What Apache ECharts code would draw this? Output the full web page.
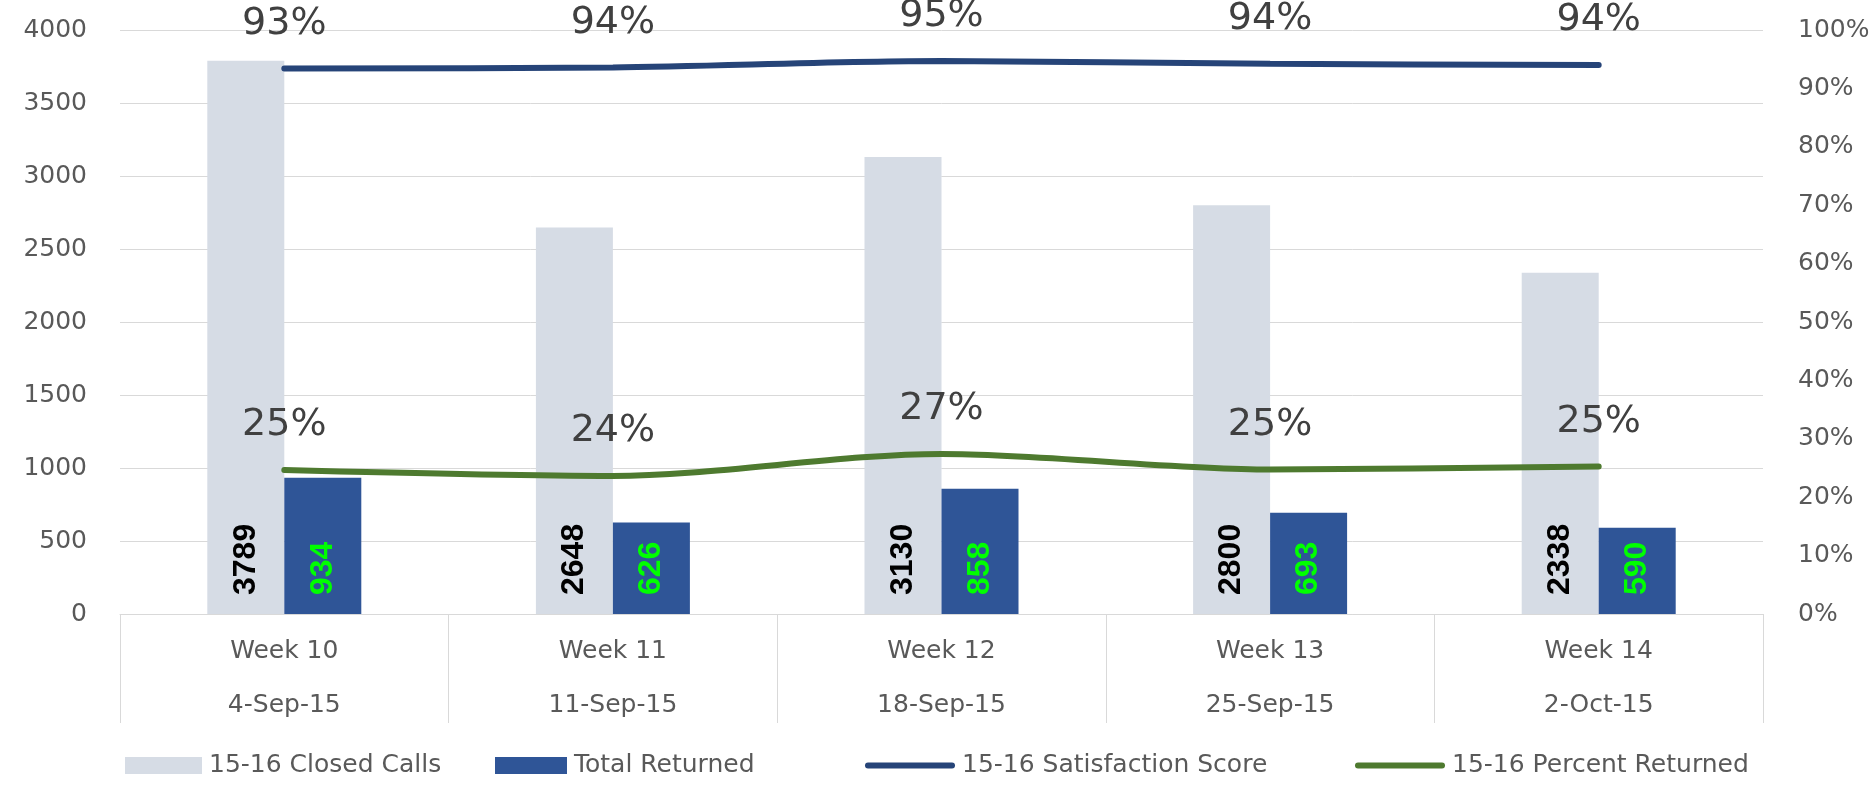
<!DOCTYPE html>
<html>
<head>
<meta charset="utf-8">
<title>Closed Calls vs Returned</title>
<script src="https://cdn.jsdelivr.net/npm/echarts@6/dist/echarts.min.js"></script>
<style>
  html, body { margin: 0; padding: 0; background: #fff; }
  #main { width: 1874px; height: 786px; }
</style>
</head>
<body>
<div id="main"></div>
<script>
  // weekly data
  var weeks = ['Week 10', 'Week 11', 'Week 12', 'Week 13', 'Week 14'];
  var weekDates = ['4-Sep-15', '11-Sep-15', '18-Sep-15', '25-Sep-15', '2-Oct-15'];
  var closedCalls = [3789, 2648, 3130, 2800, 2338];
  var totalReturned = [934, 626, 858, 693, 590];
  var satisfaction = [0.934, 0.936, 0.947, 0.942, 0.940];
  var pctReturned = [0.2465, 0.2364, 0.2741, 0.2475, 0.2524];

  var gray = '#595959';
  var font = 'DejaVu Sans';
  // thick rounded line used as legend icon for the line series
  var lineIcon = 'path://M3,0 H87 A3,3 0 0 1 87,6 H3 A3,3 0 0 1 3,0 Z';

  var myChart = echarts.init(document.getElementById('main'));

  function pct(p) { return Math.round(p.value * 100) + '%'; }

  function legendAt(left, name, icon, w) {
    return {
      left: left,
      top: 748,
      itemWidth: w,
      itemHeight: 17,
      itemGap: 0,
      textStyle: { fontFamily: font, fontSize: 25, color: gray, padding: [0, 0, 0, 2] },
      data: [{ name: name, icon: icon }]
    };
  }

  var option = {
    animation: false,
    backgroundColor: '#fff',
    grid: { left: 120, right: 111, top: 30, bottom: 172 },
    legend: [
      legendAt(120, '15-16 Closed Calls', 'rect', 77),
      legendAt(490, 'Total Returned', 'rect', 72),
      legendAt(860, '15-16 Satisfaction Score', lineIcon, 90),
      legendAt(1350, '15-16 Percent Returned', lineIcon, 90)
    ],
    xAxis: {
      type: 'category',
      data: weeks,
      axisLine: { lineStyle: { color: '#d9d9d9', width: 1 } },
      axisTick: { show: true, length: 109, lineStyle: { color: '#d9d9d9' } },
      axisLabel: {
        margin: 10,
        fontFamily: font,
        fontSize: 25,
        color: gray,
        lineHeight: 54,
        formatter: function (v, i) { return v + '\n' + weekDates[i]; }
      }
    },
    yAxis: [
      {
        type: 'value',
        min: 0, max: 4000, interval: 500,
        axisLine: { show: false },
        axisTick: { show: false },
        axisLabel: {
          margin: 33, fontFamily: font, fontSize: 25, color: gray,
          formatter: function (v) { return String(v); }
        },
        splitLine: { lineStyle: { color: '#d9d9d9', width: 1 } }
      },
      {
        type: 'value',
        min: 0, max: 1, interval: 0.1,
        position: 'right',
        axisLine: { show: false },
        axisTick: { show: false },
        splitLine: { show: false },
        axisLabel: {
          margin: 35, fontFamily: font, fontSize: 25, color: gray,
          formatter: function (v) { return Math.round(v * 100) + '%'; }
        }
      }
    ],
    series: [
      {
        name: '15-16 Closed Calls',
        type: 'bar',
        data: closedCalls,
        barWidth: 77,
        barGap: '0%',
        itemStyle: { color: '#d6dce5' },
        label: {
          show: true, position: 'insideBottom', distance: 19,
          rotate: 90, align: 'left', verticalAlign: 'middle',
          fontFamily: 'Liberation Sans', fontWeight: 'bold', fontSize: 32, color: '#000'
        }
      },
      {
        name: 'Total Returned',
        type: 'bar',
        data: totalReturned,
        barWidth: 77,
        barGap: '0%',
        itemStyle: { color: '#2f5597' },
        label: {
          show: true, position: 'insideBottom', distance: 19,
          rotate: 90, align: 'left', verticalAlign: 'middle',
          fontFamily: 'Liberation Sans', fontWeight: 'bold', fontSize: 32, color: '#00ff00'
        }
      },
      {
        name: '15-16 Satisfaction Score',
        type: 'line',
        yAxisIndex: 1,
        data: satisfaction,
        smooth: 0.3,
        symbol: 'circle',
        symbolSize: 1,
        itemStyle: { color: '#264478' },
        lineStyle: { color: '#264478', width: 6, cap: 'round' },
        label: {
          show: true, position: 'top', distance: 25,
          fontFamily: font, fontSize: 38, color: '#404040',
          formatter: pct
        }
      },
      {
        name: '15-16 Percent Returned',
        type: 'line',
        yAxisIndex: 1,
        data: pctReturned,
        smooth: 0.3,
        symbol: 'circle',
        symbolSize: 1,
        itemStyle: { color: '#4e7a2f' },
        lineStyle: { color: '#4e7a2f', width: 6, cap: 'round' },
        label: {
          show: true, position: 'top', distance: 25,
          fontFamily: font, fontSize: 38, color: '#404040',
          formatter: pct
        }
      }
    ]
  };

  myChart.setOption(option);
</script>
</body>
</html>
